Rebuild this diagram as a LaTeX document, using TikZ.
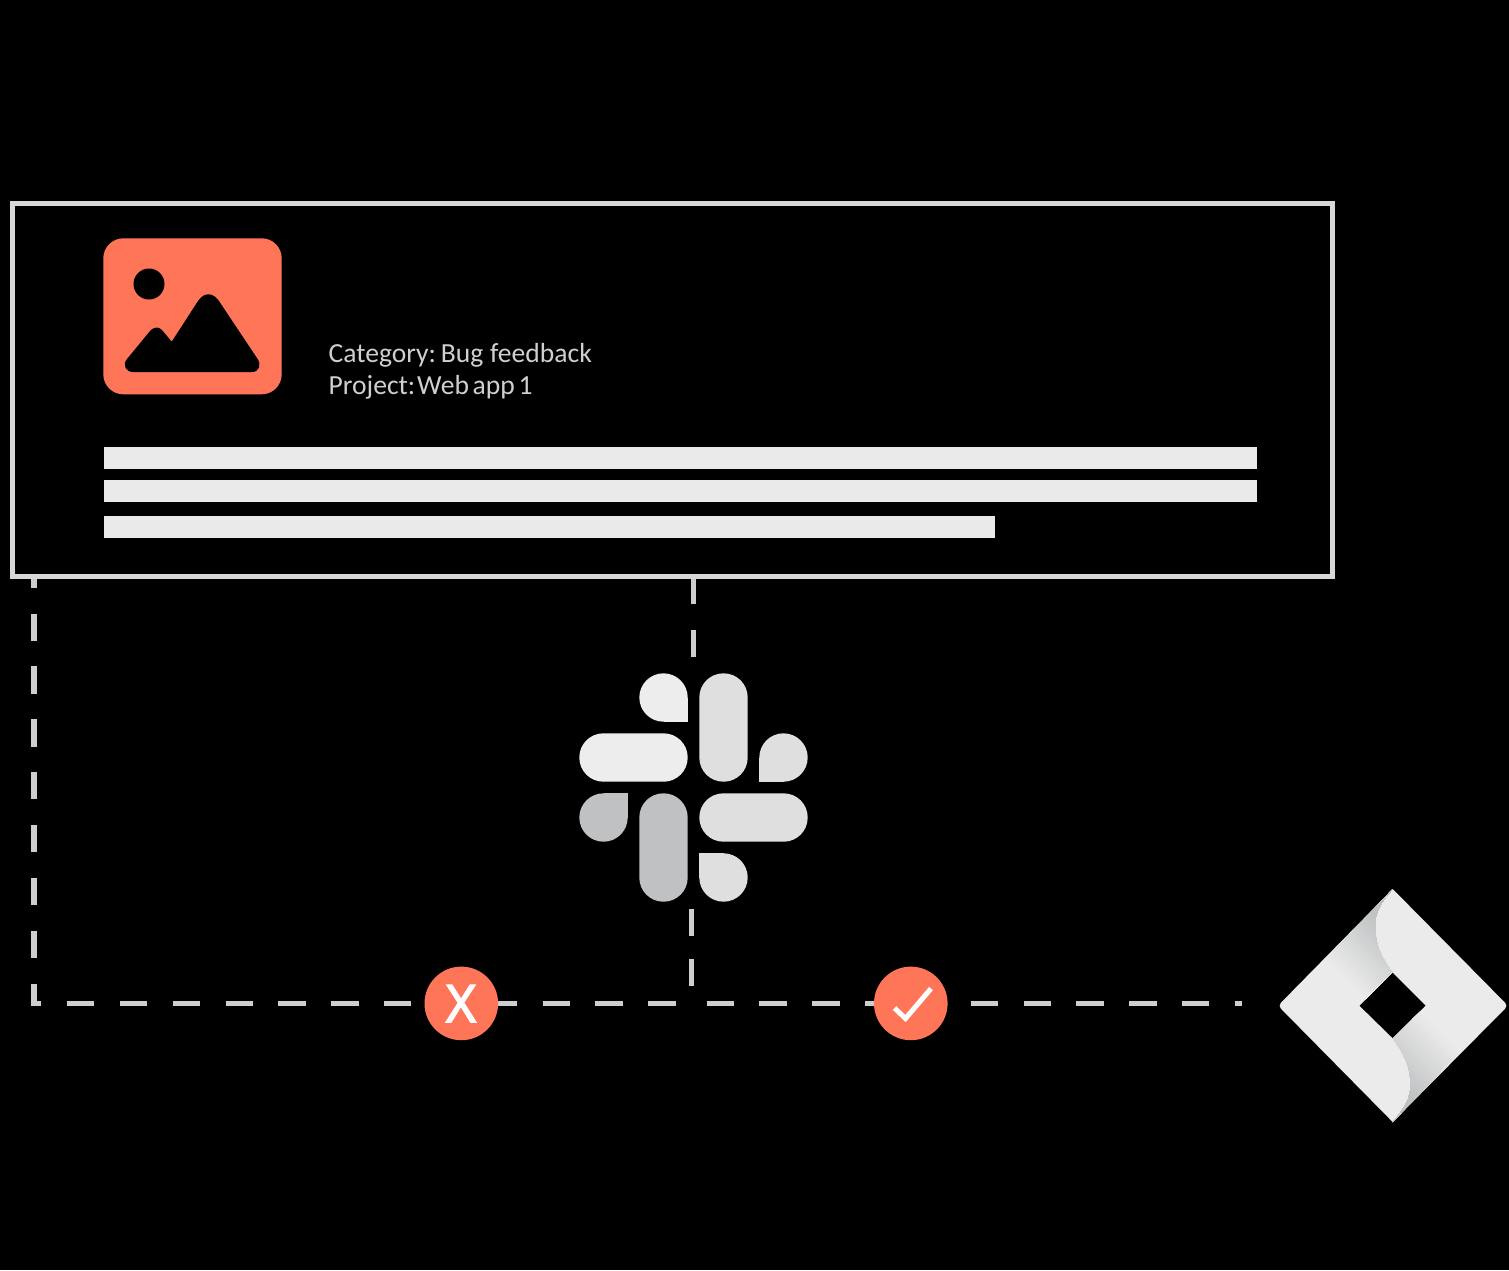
\documentclass[tikz,border=0pt]{standalone}
\usepackage{fontspec}
\setmainfont{Carlito}[WordSpace=0.6]
\newfontfamily\xfont{Open Sans}[FakeBold=3]
\definecolor{coral}{HTML}{FF7558}
\definecolor{barc}{HTML}{EAEAEA}
\definecolor{framec}{HTML}{D6D7D7}
\definecolor{dashc}{HTML}{CDCECE}
\definecolor{textc}{HTML}{CFCFCF}
\definecolor{slackA}{HTML}{EDEDED}
\definecolor{slackB}{HTML}{DFDFDF}
\definecolor{slackC}{HTML}{C0C1C2}
\definecolor{jiraA}{HTML}{EBEBEB}
\definecolor{jiraB}{HTML}{BFC1C2}
\pgfdeclarelayer{edges}
\pgfdeclarelayer{back}
\pgfsetlayers{back,edges,main}
\tikzset{
  framebox/.style={draw=framec,line width=5pt,minimum width=1320pt,minimum height=373pt,inner sep=0pt},
  dashline/.style={draw=dashc,line width=5.5pt,dash pattern=on 27.3pt off 25.55pt},
  badge/.style={circle,fill=coral,minimum size=73.6pt,inner sep=0pt},
  infotext/.style={text=textc,anchor=base west,inner sep=0pt,font=\fontsize{27.6}{27.6}\selectfont},
  barline/.style={fill=barc},
}
\begin{document}
\begin{tikzpicture}[x=1pt,y=-1pt]
\useasboundingbox (0,0) rectangle (1509,1270);
\begin{pgfonlayer}{back}
\fill[black] (0,0) rectangle (1509,1270);
\end{pgfonlayer}

% card
\node[framebox] (card) at (672.5,390) {};
\fill[coral,rounded corners=20pt] (103.3,238.3) rectangle (281.7,394.3);
\fill[black] (149,284) circle (15.5pt);
\fill[black] (208.3,294.3)
  .. controls (213,294.3) and (216,297) .. (219,301)
  -- (257,358)
  .. controls (262,365) and (259,372) .. (252,372)
  -- (133,372)
  .. controls (126,372) and (122,365) .. (127,359)
  -- (150,331)
  .. controls (155,326) and (159,327) .. (162,330)
  -- (171.7,341.7)
  -- (198,301)
  .. controls (201,297) and (204,294.3) .. (208.3,294.3) -- cycle;
\node[infotext] (cat) at (328.5,362) {Category:\kern-1pt{} Bug\kern3pt{} feedback};
\node[infotext] (proj) at (328.5,394) {Project:\kern-4pt{} Web app 1};
\fill[barline] (104,447) rectangle (1257,469);
\fill[barline] (104,480) rectangle (1257,502);
\fill[barline] (104,516) rectangle (995,538);

% slack logo
\fill[slackA] (663.5,697.5) circle (24.2pt);
\fill[slackA] (663.5,697.5) rectangle (687.7,721.7);
\fill[slackA,rounded corners=24.1pt] (579.3,733.3) rectangle (687.7,781.7);
\fill[slackB,rounded corners=24.1pt] (699.3,673.3) rectangle (747.7,781.7);
\fill[slackB] (783.5,757.5) circle (24.2pt);
\fill[slackB] (759.3,757.5) rectangle (783.5,781.7);
\fill[slackC] (603.5,817.5) circle (24.2pt);
\fill[slackC] (603.5,793.3) rectangle (627.7,817.5);
\fill[slackC,rounded corners=24.1pt] (639.3,793.3) rectangle (687.7,901.7);
\fill[slackB,rounded corners=24.1pt] (699.3,793.3) rectangle (807.7,841.7);
\fill[slackB] (723.5,877.5) circle (24.2pt);
\fill[slackB] (699.3,853.3) rectangle (723.5,877.5);
\coordinate (slacktop) at (693.5,673);
\coordinate (slackbot) at (691.5,902);

% jira logo
\coordinate (jt) at (1392.7,889);
\coordinate (jr) at (1508,1005.7);
\coordinate (jb) at (1392.7,1122);
\coordinate (jl) at (1278,1005.7);
\fill[jiraA,even odd rule] (jt) [rounded corners=4pt] -- (jr) [sharp corners] -- (jb) [rounded corners=4pt] -- (jl) [sharp corners] -- cycle
  (1392.5,972.3) -- (1425.7,1005.7) -- (1392.9,1038.6) -- (1359.3,1005.7) -- cycle;
\foreach \rot in {0,180}{
  \begin{scope}[rotate around={\rot:(1392.7,1005.5)}]
    \clip (1392.7,889) .. controls (1375,908) and (1375,920) .. (1375,927)
      .. controls (1375,945) and (1383,961) .. (1392.5,972.3)
      -- (1365,1000) -- (1325.3,960.3) -- cycle;
    \foreach \i in {0,...,48}{
      \pgfmathsetmacro{\u}{365+2*\i}
      \pgfmathsetmacro{\p}{100-100*\i/48}
      \fill[jiraA!\p!jiraB] ({(2200+\u)/2},{(2200-\u)/2}) -- ({(2500+\u)/2},{(2500-\u)/2})
        -- ({(2500+600)/2},{(2500-600)/2}) -- ({(2200+600)/2},{(2200-600)/2}) -- cycle;
    }
  \end{scope}
}

% badges
\node[badge] (no) at (461.3,1003.4) {};
\node[anchor=center,inner sep=0pt,text=white,font=\xfont\fontsize{52}{52}\selectfont] (nox) at (461,1003.6) {X};
\node[badge] (yes) at (910.8,1003.4) {};
\draw[white,line width=5pt,miter limit=10] (894.5,1008) -- (905.5,1018.5) -- (931,988.5);

% connector ends
\coordinate (leftstart) at (34,579);
\coordinate (corner) at (34,1003.4);
\coordinate (joinL) at (675.5,1003.4);
\coordinate (joinR) at (706.5,1003.4);
\coordinate (jiraend) at (1242,1003.4);
\coordinate (midstart) at (693.5,579);
\coordinate (lowend) at (691.5,986);

\begin{pgfonlayer}{edges}
\draw[dashline,dash phase=18.3pt] (leftstart) -- (corner) -- (no.center) -- (joinL);
\draw[dashline] (joinR) -- (yes.center) -- (jiraend);
\draw[dashline,line width=5pt,dash pattern=on 27.3pt off 25.7pt,dash phase=2pt] (midstart) -- (slacktop);
\draw[dashline,line width=5pt,dash pattern=on 26.5pt off 23.5pt,dash phase=43pt] (slackbot) -- (lowend);
\end{pgfonlayer}
\end{tikzpicture}
\end{document}
